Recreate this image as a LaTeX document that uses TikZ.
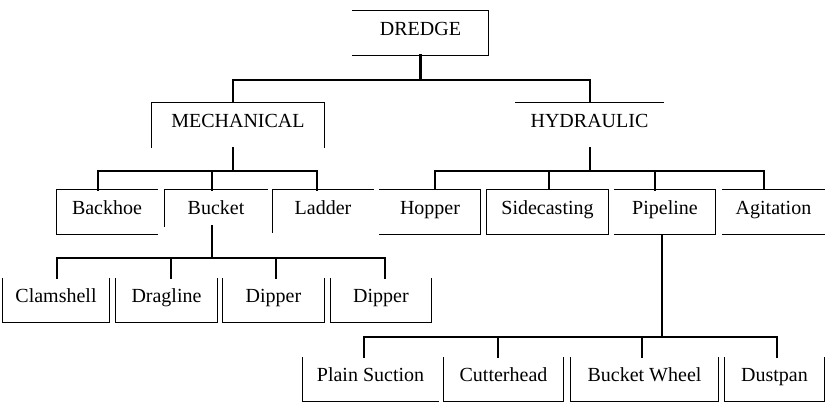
\documentclass[tikz,border=0pt]{standalone}
\usepackage{fontspec}
\setmainfont{Liberation Serif}
\begin{document}
\begin{tikzpicture}[x=1pt,y=-1pt,
  box/.style={inner sep=0pt, minimum height=44pt, text height=18pt, text depth=14pt,
              font=\fontsize{20pt}{22pt}\selectfont},
  edge/.style={line width=1.2pt},
  thin/.style={line width=1.2pt},
  thick/.style={line width=2.3pt},
  line cap=rect]
\useasboundingbox (0,0) rectangle (838,410);

% ---- level 1 ----
\node[box, minimum width=135pt] (dredge) at (420.5,33) {DREDGE};
% ---- level 2 ----
\node[box, minimum width=172pt] (mech) at (238,125) {MECHANICAL};
\node[box, minimum width=147pt] (hyd) at (589.5,125) {HYDRAULIC};
% ---- level 3 ----
\node[box, minimum width=100pt] (backhoe) at (107,212) {Backhoe};
\node[box, minimum width=102pt] (bucket) at (216,212) {Bucket};
\node[box, minimum width=100pt] (ladder) at (323,212) {Ladder};
\node[box, minimum width=100pt] (hopper) at (430,212) {Hopper};
\node[box, minimum width=121pt] (side) at (547.5,212) {Sidecasting};
\node[box, minimum width=100pt] (pipe) at (665,212) {Pipeline};
\node[box, minimum width=101pt] (agit) at (773.5,212) {Agitation};
% ---- level 4 (bucket types) ----
\node[box, minimum width=106pt] (clam) at (56,300.5) {Clamshell};
\node[box, minimum width=101pt] (drag) at (166.5,300.5) {Dragline};
\node[box, minimum width=101pt] (dipa) at (273.5,300.5) {Dipper};
\node[box, minimum width=100pt] (dipb) at (381,300.5) {Dipper};
% ---- level 4 (pipeline types) ----
\node[box, minimum width=135pt] (plain) at (370.5,379.5) {Plain Suction};
\node[box, minimum width=119pt] (cutter) at (503.5,379.5) {Cutterhead};
\node[box, minimum width=147pt] (wheel) at (644.5,379.5) {Bucket Wheel};
\node[box, minimum width=99pt] (dust) at (774.5,379.5) {Dustpan};

% ---- box outlines ----
\draw[edge] (dredge.north west) -- (dredge.north east) -- (dredge.south east) -- (dredge.south west);
\draw[edge] (mech.south west) -- (mech.north west) -- (mech.north east) -- (mech.south east);
\draw[edge] (hyd.north west) -- (hyd.north east);
\draw[edge] (backhoe.north east) -- (backhoe.north west) -- (backhoe.south west) -- (backhoe.south east);
\draw[edge] ([yshift=8pt]bucket.south west) -- (bucket.north west) -- (bucket.north east);
\draw[edge] ([yshift=2pt]ladder.south west) -- (ladder.north west) -- (ladder.north east);
\draw[edge] (hopper.north west) -- (hopper.north east) -- (hopper.south east) -- (hopper.south west);
\draw[edge] (side.north west) rectangle (side.south east);
\draw[edge] (pipe.north west) -- (pipe.north east) -- (pipe.south east) -- (pipe.south west);
\draw[edge] (agit.north west) -- (agit.north east);
\draw[edge] (agit.south west) -- (agit.south east);
\foreach \n in {clam,drag,dipa,dipb,cutter,wheel,dust}
  \draw[edge] (\n.north west) -- (\n.south west) -- (\n.south east) -- (\n.north east);
\draw[edge] (plain.north west) -- (plain.south west) -- (plain.south east);

% ---- bus coordinates ----
\coordinate (topL) at (233,80);
\coordinate (topR) at (590,80);
\coordinate (mL) at (98,171);
\coordinate (mM) at (212,171);
\coordinate (mR) at (317,171);
\coordinate (hA) at (435,171);
\coordinate (hB) at (549,171);
\coordinate (hC) at (655,171);
\coordinate (hD) at (764,171);
\coordinate (bA) at (57,258);
\coordinate (bB) at (171,258);
\coordinate (bC) at (276,258);
\coordinate (bD) at (385,258);
\coordinate (pA) at (364,337);
\coordinate (pB) at (498,337);
\coordinate (pC) at (642,337);
\coordinate (pD) at (777,337);

% ---- DREDGE to its two classes ----
\draw[thick] (dredge.south) -- (dredge.south |- topL);
\draw[line width=1.5pt] (topL) -- (topR);
\draw[thin] (topL) -- (topL |- mech.north);
\draw[thin] (topR) -- (topR |- hyd.north);

% ---- MECHANICAL branch ----
\draw[thin] (topL |- mech.south) -- (topL |- mL);
\draw[thick] (mL) -- (mR);
\draw[thick] (mL) -- (mL |- backhoe.north);
\draw[thick] (mM) -- (mM |- bucket.north);
\draw[thick] (mR) -- (mR |- ladder.north);

% ---- HYDRAULIC branch ----
\draw[thin] (topR |- hyd.south) -- (topR |- hA);
\draw[thin] (hA) -- (hD);
\draw[thin] (hA) -- (hA |- hopper.north);
\draw[thin] (hB) -- (hB |- side.north);
\draw[thick] (hC) -- (hC |- pipe.north);
\draw[thin] (hD) -- (hD |- agit.north);

% ---- Bucket types ----
\draw[thick] ([yshift=8pt]mM |- bucket.south) -- (mM |- bA);
\draw[thick] (bA) -- (bD);
\draw[thin] (bA) -- (bA |- clam.north);
\draw[thin] (bB) -- (bB |- drag.north);
\draw[thick] (bC) -- (bC |- dipa.north);
\draw[thin] (bD) -- (bD |- dipb.north);

% ---- Pipeline types ----
\coordinate (pstem) at (662,337);
\draw[thin] (pstem |- pipe.south) -- (pstem);
\draw[thick] (pA) -- (pD);
\draw[line width=1.7pt] (pA) -- (pA |- plain.north);
\draw[thick] (pB) -- (pB |- cutter.north);
\draw[thick] (pC) -- (pC |- wheel.north);
\draw[line width=1.7pt] (pD) -- (pD |- dust.north);
\end{tikzpicture}
\end{document}
